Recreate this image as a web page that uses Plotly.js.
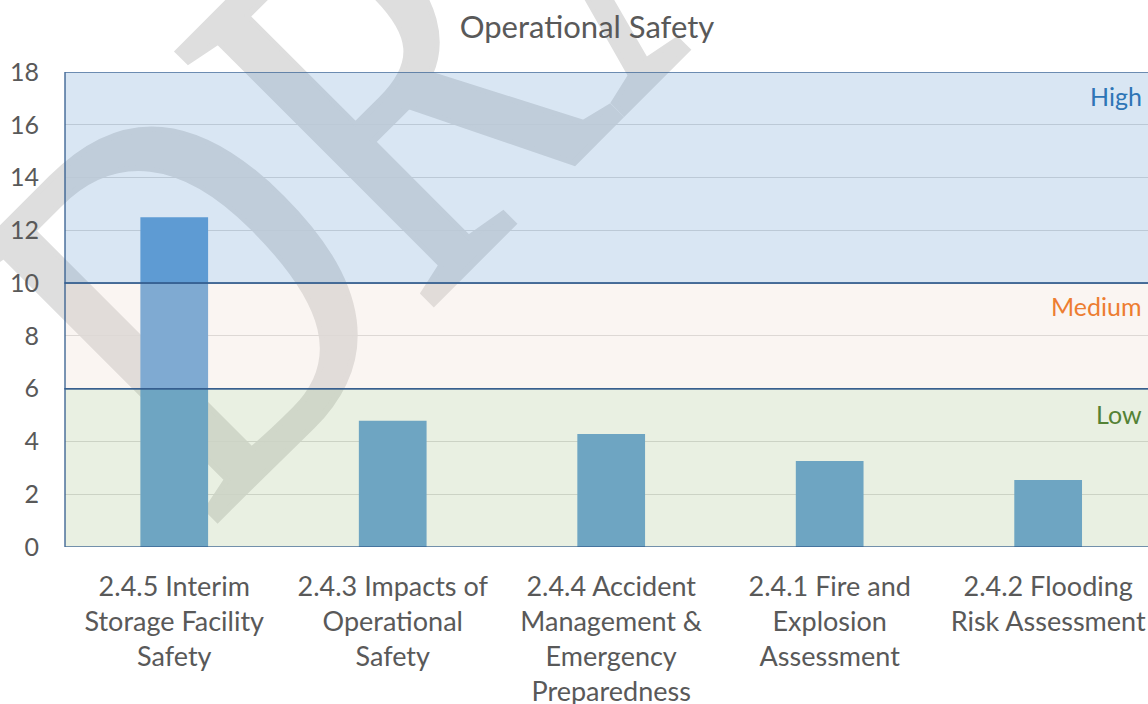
<!DOCTYPE html>
<html>
<head>
<meta charset="utf-8">
<script src="https://cdn.plot.ly/plotly-3.0.1.min.js"></script>
<style>
html, body { margin: 0; padding: 0; background: #ffffff; }
#wrap { position: relative; width: 1148px; height: 704px; overflow: hidden; }
#wm { position: absolute; left: 0; top: 0; z-index: 0; }
#chart { position: absolute; left: 0; top: 0; width: 1148px; height: 704px; z-index: 1; }
</style>
</head>
<body>
<div id="wrap">
  <svg id="wm" width="1148" height="704" xmlns="http://www.w3.org/2000/svg">
    <text x="0" y="0" transform="translate(208.5,528.5) rotate(-45) scale(0.766,1)"
          font-family="Liberation Serif, DejaVu Serif, serif" font-size="548"
          fill="#dedede" stroke="#dedede" stroke-width="6">DRAFT</text>
  </svg>
  <div id="chart"></div>
</div>
<script>
// ---- data ----
const categories = [
  "2.4.5 Interim<br>Storage Facility<br>Safety",
  "2.4.3 Impacts of<br>Operational<br>Safety",
  "2.4.4 Accident<br>Management &<br>Emergency<br>Preparedness",
  "2.4.1 Fire and<br>Explosion<br>Assessment",
  "2.4.2 Flooding<br>Risk Assessment"
];
const scores = [12.5, 4.78, 4.28, 3.26, 2.54];

const bandNames = ["Low", "Medium", "High"];
const bandFrom = [0, 6, 10];
const bandTo = [6, 10, 18];
const bandLabelY = [5.05, 9.15, 17.1];

const yTickVals = [0, 2, 4, 6, 8, 10, 12, 14, 16, 18];
const chartTitle = "Operational Safety";

// ---- styles ----
const bandFill = ["rgba(168,196,140,0.25)", "rgba(236,216,204,0.25)", "rgba(104,156,206,0.25)"];
const bandText = ["#548235", "#ed7d31", "#2e75b6"];
const FONT = "Lato, 'Open Sans', sans-serif";

const shapes = [];
const annotations = [];
for (let i = 0; i < bandNames.length; i++) {
  shapes.push({
    type: "rect", layer: "above", xref: "paper", yref: "y",
    x0: 0, x1: 1.02, y0: bandFrom[i], y1: bandTo[i],
    fillcolor: bandFill[i],
    line: { color: "rgba(47,89,140,0.85)", width: 1.5 }
  });
  annotations.push({
    xref: "paper", yref: "y", x: 0.9963, y: bandLabelY[i],
    xanchor: "right", yanchor: "middle", showarrow: false,
    text: bandNames[i],
    font: { family: FONT, size: 25, color: bandText[i] }
  });
}

const trace = {
  type: "bar",
  x: categories,
  y: scores,
  marker: { color: "#5b9bd5" },
  hoverinfo: "skip"
};

const layout = {
  width: 1148, height: 704,
  margin: { l: 65, r: 0, t: 72, b: 157, pad: 0 },
  paper_bgcolor: "rgba(0,0,0,0)",
  plot_bgcolor: "rgba(0,0,0,0)",
  bargap: 0.69,
  showlegend: false,
  title: {
    text: chartTitle,
    x: 0.482, xanchor: "center", xref: "paper",
    y: 0.962, yanchor: "middle", yref: "container",
    font: { family: FONT, size: 31, color: "#595959" }
  },
  xaxis: {
    type: "category",
    range: [-0.5, 4.457],
    showgrid: false, zeroline: false, showline: false,
    ticks: "", ticklabelstandoff: 21,
    tickfont: { family: FONT, size: 27, color: "#595959" },
    fixedrange: true
  },
  yaxis: {
    range: [0, 18],
    tickvals: yTickVals,
    showgrid: true, gridcolor: "#d9d9d9", gridwidth: 1,
    zeroline: false, showline: false,
    ticks: "", ticklabelstandoff: 25,
    tickfont: { family: FONT, size: 25, color: "#595959" },
    fixedrange: true
  },
  shapes: shapes,
  annotations: annotations
};

Plotly.newPlot("chart", [trace], layout, { staticPlot: true, displayModeBar: false });
</script>
</body>
</html>
